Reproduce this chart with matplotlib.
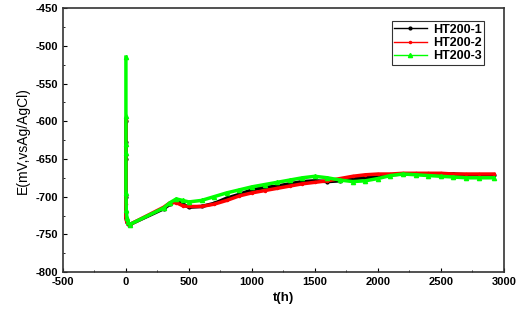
import matplotlib.pyplot as plt
from matplotlib.ticker import MultipleLocator

plt.rcParams['font.family'] = ['Liberation Sans', 'DejaVu Sans']
plt.rcParams['axes.unicode_minus'] = False

# time (h)
t_spike = [0, 0, 0, 0, 0, 3, 8, 15, 30]
t_main = [300, 350, 400, 450, 500, 600, 700, 800, 900, 1000, 1100, 1200, 1300,
          1400, 1500, 1600, 1700, 1800, 1900, 2000, 2100, 2200, 2300, 2400,
          2500, 2600, 2700, 2800, 2920]

e1 = [-600, -627, -650, -700, -720, -728, -733, -736, -737,
      -716, -710, -705, -710, -714, -713, -709, -702, -697, -691, -688, -686, -683,
      -680, -679, -680, -679, -676, -675, -674, -671, -670, -670, -670,
      -670, -670, -671, -671, -671]
e2 = [-598, -630, -645, -710, -727, -731, -734, -736, -737,
      -714, -708, -708, -712, -713, -713, -710, -705, -699, -695, -692, -689, -686,
      -683, -681, -679, -676, -673, -671, -670, -670, -669, -669, -669,
      -669, -670, -670, -670, -670]
e3 = [-515, -593, -630, -642, -695, -718, -728, -733, -737,
      -715, -708, -703, -705, -707, -705, -700, -695, -691, -687, -684, -681, -678,
      -675, -673, -675, -678, -680, -679, -676, -672, -670, -671,
      -672, -673, -674, -675, -675, -675]

t = t_spike + t_main

fig = plt.figure(figsize=(5.2, 3.12), dpi=100)
ax = fig.add_axes([0.121, 0.128, 0.848, 0.846])

ax.plot(t, e1, color='black', lw=2.5, marker='o', ms=2, label='HT200-1')
ax.plot(t, e2, color='red', lw=2.5, marker='o', ms=1.5, label='HT200-2')
ax.plot(t, e3, color='#00ff00', lw=2.5, marker='^', ms=3, label='HT200-3')

ax.set_xlim(-500, 3000)
ax.set_ylim(-800, -450)
ax.xaxis.set_major_locator(MultipleLocator(500))
ax.xaxis.set_minor_locator(MultipleLocator(250))
ax.yaxis.set_major_locator(MultipleLocator(50))
ax.yaxis.set_minor_locator(MultipleLocator(25))
ax.tick_params(which='both', direction='in', labelsize=8)
ax.tick_params(which='major', length=3)
ax.tick_params(which='minor', length=1.5)
for lab in ax.get_xticklabels() + ax.get_yticklabels():
    lab.set_fontweight('bold')

for s in ax.spines.values():
    s.set_linewidth(1.2)
    s.set_color('#333333')

ax.set_xlabel('t(h)', fontsize=9.5, fontweight='bold')
ax.set_ylabel('E(mV,vsAg/AgCl)', fontsize=10)

leg = ax.legend(loc='upper right', bbox_to_anchor=(0.955, 0.95), fontsize=9,
                frameon=True, fancybox=False, edgecolor='black', numpoints=1,
                handlelength=2.6, borderaxespad=0, labelspacing=0.1,
                borderpad=0.2, handletextpad=0.5)
leg.get_frame().set_linewidth(0.8)
for txt in leg.get_texts():
    txt.set_fontweight('bold')
for h in leg.get_lines():
    h.set_linewidth(1)

fig.savefig('out.png', dpi=100)
